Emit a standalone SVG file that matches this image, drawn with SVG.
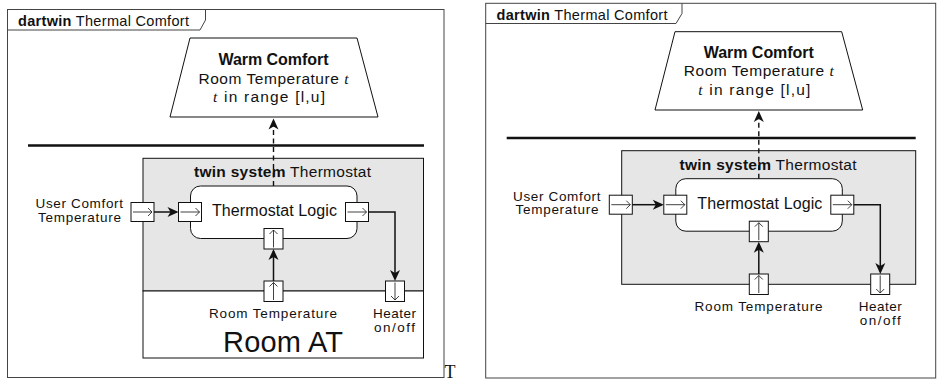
<svg xmlns="http://www.w3.org/2000/svg" xmlns:xlink="http://www.w3.org/1999/xlink" width="939" height="381" viewBox="0 0 939 381">
<style>
text{font-family:"Liberation Sans",Arial,sans-serif;fill:#111}
.frame{fill:#fff;stroke:#444;stroke-width:1}
.tab{fill:none;stroke:#444;stroke-width:1}
.twin{fill:#e6e6e6;stroke:#111;stroke-width:1}
.white{fill:#fff;stroke:#111;stroke-width:1}
.thick{stroke:#111;stroke-width:2.6}
.conn{fill:none;stroke:#111;stroke-width:1.5;marker-end:url(#ah)}
.dash{fill:none;stroke:#111;stroke-width:1.4;stroke-dasharray:5 3.5;marker-end:url(#ah)}
.t13{font-size:13.5px}
.t14{font-size:14.5px}
.t15{font-size:15.5px}
.t16{font-size:16px}
.b{font-weight:bold}
.m{font-family:"Liberation Serif","Times New Roman",serif;font-style:italic}
.mid{text-anchor:middle}
.end{text-anchor:end}
</style>
<defs>
<marker id="ah" viewBox="-10 -6 13 12" refX="0" refY="0" markerWidth="13" markerHeight="12" markerUnits="userSpaceOnUse" orient="auto">
<path d="M2,0 L-9,-5 L-6,0 L-9,5 Z" fill="#111"/>
</marker>
<g id="portR"><rect x="0" y="0" width="23" height="19" fill="#fff" stroke="#111" stroke-width="1"/><path d="M2,9.5 H21 M17,5.5 L21,9.5 L17,13.5" fill="none" stroke="#111" stroke-width="0.8"/></g>
<g id="portU"><rect x="0" y="0" width="19" height="20.5" fill="#fff" stroke="#111" stroke-width="1"/><path d="M9.5,19 V1.5 M5.5,5.5 L9.5,1.5 L13.5,5.5" fill="none" stroke="#111" stroke-width="0.8"/></g>
<g id="portD"><rect x="0" y="0" width="19" height="20.5" fill="#fff" stroke="#111" stroke-width="1"/><path d="M9.5,1.5 V19 M5.5,15 L9.5,19 L13.5,15" fill="none" stroke="#111" stroke-width="0.8"/></g>
</defs>

<!-- LEFT DIAGRAM -->
<g id="left-frame">
<rect class="frame" x="7.5" y="9.5" width="436.5" height="368"/>
<path class="tab" d="M7.5,30 H200 L205.5,20 V9.5"/>
<text class="t14" x="18" y="26" textLength="171"><tspan class="b">dartwin</tspan> Thermal Comfort</text>
</g>
<g id="left-warm-comfort">
<polygon class="white" points="190,38 357,38 378,117 170,117"/>
<text class="t16 b mid" x="273.5" y="65" textLength="110">Warm Comfort</text>
<text class="t15 mid" x="273.5" y="83.5" textLength="150">Room Temperature <tspan class="m">t</tspan></text>
<text class="t15 mid" x="269" y="102" textLength="112"><tspan class="m">t</tspan> in range [l,u]</text>
</g>
<line id="left-separator" class="thick" x1="28" y1="145.5" x2="424" y2="145.5"/>
<g id="left-twin-system">
<rect class="twin" x="143" y="158.3" width="280.5" height="132.7"/>
<text class="t15 mid" x="282.5" y="177" textLength="177"><tspan class="b">twin system</tspan> Thermostat</text>
<use xlink:href="#portR" x="131" y="202.5"/>
<text class="t13 end" x="123" y="208" textLength="87.5">User Comfort</text>
<text class="t13 end" x="121" y="221.5" textLength="83">Temperature</text>
</g>
<g id="left-thermostat-logic">
<rect class="white" x="190.5" y="186" width="166.5" height="52.5" rx="10"/>
<text class="t16 mid" x="274.5" y="216" textLength="125">Thermostat Logic</text>
<use xlink:href="#portR" x="178.5" y="202.5"/>
<use xlink:href="#portR" x="345.5" y="202.5"/>
<use xlink:href="#portU" x="264" y="228.5"/>
</g>
<g id="left-room-at">
<rect class="white" x="143" y="291" width="280.5" height="67"/>
<use xlink:href="#portU" x="264" y="281"/>
<use xlink:href="#portD" x="385.5" y="281"/>
<text class="t13 mid" x="273" y="318.3" textLength="128">Room Temperature</text>
<text class="t13 mid" x="394.5" y="318.3" textLength="43">Heater</text>
<text class="t13 mid" x="394.5" y="331.7" textLength="41">on/off</text>
<text class="mid" style="font-size:29px" x="283" y="352" textLength="120">Room AT</text>
</g>
<text style="font-family:'Liberation Serif','Times New Roman',serif;font-size:18px" x="444.5" y="377.7">T</text>

<!-- RIGHT DIAGRAM -->
<g id="right-frame">
<rect class="frame" x="485.7" y="3.3" width="450" height="374.7"/>
<path class="tab" d="M485.7,23.5 H676 L682,13.5 V3.3"/>
<text class="t14" x="496.5" y="20" textLength="171"><tspan class="b">dartwin</tspan> Thermal Comfort</text>
</g>
<g id="right-warm-comfort">
<polygon class="white" points="675,31.7 841.7,31.7 862.7,110 655,110"/>
<text class="t16 b mid" x="758.8" y="57.7" textLength="110">Warm Comfort</text>
<text class="t15 mid" x="758.8" y="76.2" textLength="150">Room Temperature <tspan class="m">t</tspan></text>
<text class="t15 mid" x="754.3" y="94.7" textLength="112"><tspan class="m">t</tspan> in range [l,u]</text>
</g>
<line id="right-separator" class="thick" x1="506.7" y1="138" x2="915.7" y2="138"/>
<g id="right-twin-system">
<rect class="twin" x="621.7" y="150.7" width="294" height="133.6"/>
<text class="t15 mid" x="768" y="169.5" textLength="177"><tspan class="b">twin system</tspan> Thermostat</text>
<use xlink:href="#portR" x="609.3" y="195.2"/>
<text class="t13 end" x="600.5" y="200.7" textLength="87.5">User Comfort</text>
<text class="t13 end" x="598.5" y="214.2" textLength="83">Temperature</text>
<use xlink:href="#portU" x="749.3" y="274"/>
<use xlink:href="#portD" x="870.7" y="274"/>
<text class="t13 mid" x="758.5" y="311.3" textLength="128">Room Temperature</text>
<text class="t13 mid" x="880.3" y="311.3" textLength="43">Heater</text>
<text class="t13 mid" x="880.3" y="324.7" textLength="41">on/off</text>
</g>
<g id="right-thermostat-logic">
<rect class="white" x="675.8" y="178.7" width="166.5" height="52.5" rx="10"/>
<text class="t16 mid" x="759.8" y="208.7" textLength="125">Thermostat Logic</text>
<use xlink:href="#portR" x="663.8" y="195.2"/>
<use xlink:href="#portR" x="830.8" y="195.2"/>
<use xlink:href="#portU" x="749.3" y="221.2"/>
</g>

<g id="connectors">
<path class="conn" d="M154,212 H176.5"/>
<path class="conn" d="M368.5,212 H395 V279"/>
<path class="conn" d="M273.5,281 V251"/>
<path class="dash" d="M273.5,186 V120.5"/>
<path class="conn" d="M632.3,204.7 H661.8"/>
<path class="conn" d="M853.8,204.7 H880.3 V272"/>
<path class="conn" d="M758.8,274 V243.7"/>
<path class="dash" d="M758.8,178.7 V113"/>
</g>
</svg>
